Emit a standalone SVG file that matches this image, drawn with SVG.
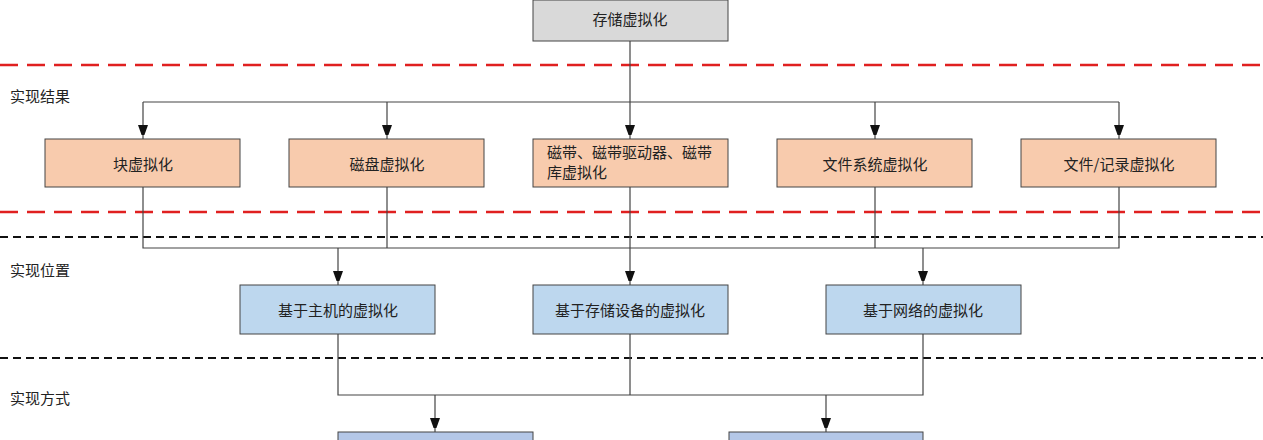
<svg xmlns="http://www.w3.org/2000/svg" width="1263" height="440" viewBox="0 0 1263 440">
<style>
text{font-family:"Noto Sans CJK SC","Liberation Sans",sans-serif;font-size:15px;fill:#222}
.t{text-anchor:middle;dominant-baseline:central}
.b{stroke:#444;stroke-width:1}
.c path{fill:none;stroke:#444;stroke-width:1.2}
.c .ar{marker-end:url(#m)}
.or{fill:#f8cbad}.bl{fill:#bdd7ee}.pu{fill:#b4c7e7}.gr{fill:#d9d9d9}
</style>
<defs>
<marker id="m" markerWidth="10" markerHeight="14" refX="14" refY="5" orient="auto" markerUnits="userSpaceOnUse"><path d="M0,0 L14,5 L0,10Z" fill="#111"/></marker></defs>
<rect width="1263" height="440" fill="#fff"/>
<g id="separators" fill="none">
<line x1="0" y1="65" x2="1263" y2="65" stroke="#e02020" stroke-width="2.5" stroke-dasharray="18,9"/>
<line x1="0" y1="212" x2="1263" y2="212" stroke="#e02020" stroke-width="2.5" stroke-dasharray="18,9"/>
<line x1="0" y1="237" x2="1263" y2="237" stroke="#111" stroke-width="2" stroke-dasharray="8,5"/>
<line x1="0" y1="358" x2="1263" y2="358" stroke="#111" stroke-width="2" stroke-dasharray="8,5"/>
</g>
<g id="labels"><text x="10" y="102">实现结果</text><text x="10" y="276">实现位置</text><text x="10" y="404">实现方式</text></g>
<g id="connectors" class="c">
<path d="M630,41V102M143,102H1119"/>
<path class="ar" d="M143,102V139"/><path class="ar" d="M387,102V139"/><path class="ar" d="M630,102V139"/><path class="ar" d="M875,102V139"/><path class="ar" d="M1119,102V139"/>
<path d="M143,187V248H1119V187M387,187V248M875,187V248M630,187V248"/>
<path class="ar" d="M338,248V285"/><path class="ar" d="M630,248V285"/><path class="ar" d="M923,248V285"/>
<path d="M338,334V395H923V334M630,334V395"/>
<path class="ar" d="M435,395V432"/><path class="ar" d="M826,395V432"/>
</g>
<g id="n0"><rect class="b gr" x="533" y="0" width="195" height="41"/><text class="t" x="630" y="18">存储虚拟化</text></g>
<g id="n1"><rect class="b or" x="45" y="139" width="195" height="48"/><text class="t" x="143" y="163">块虚拟化</text></g>
<g id="n2"><rect class="b or" x="289" y="139" width="195" height="48"/><text class="t" x="387" y="163">磁盘虚拟化</text></g>
<g id="n3"><rect class="b or" x="533" y="139" width="195" height="48"/><text x="547" y="158" font-size="14">磁带、磁带驱动器、磁带</text><text x="547" y="178" font-size="14">库虚拟化</text></g>
<g id="n4"><rect class="b or" x="777" y="139" width="195" height="48"/><text class="t" x="875" y="163">文件系统虚拟化</text></g>
<g id="n5"><rect class="b or" x="1021" y="139" width="195" height="48"/><text class="t" x="1119" y="163">文件/记录虚拟化</text></g>
<g id="n6"><rect class="b bl" x="240" y="285" width="195" height="49"/><text class="t" x="338" y="309">基于主机的虚拟化</text></g>
<g id="n7"><rect class="b bl" x="533" y="285" width="195" height="49"/><text class="t" x="630" y="309">基于存储设备的虚拟化</text></g>
<g id="n8"><rect class="b bl" x="826" y="285" width="195" height="49"/><text class="t" x="923" y="309">基于网络的虚拟化</text></g>
<g id="n9"><rect class="b pu" x="338" y="432" width="195" height="20"/></g>
<g id="n10"><rect class="b pu" x="729" y="432" width="194" height="20"/></g>
</svg>
